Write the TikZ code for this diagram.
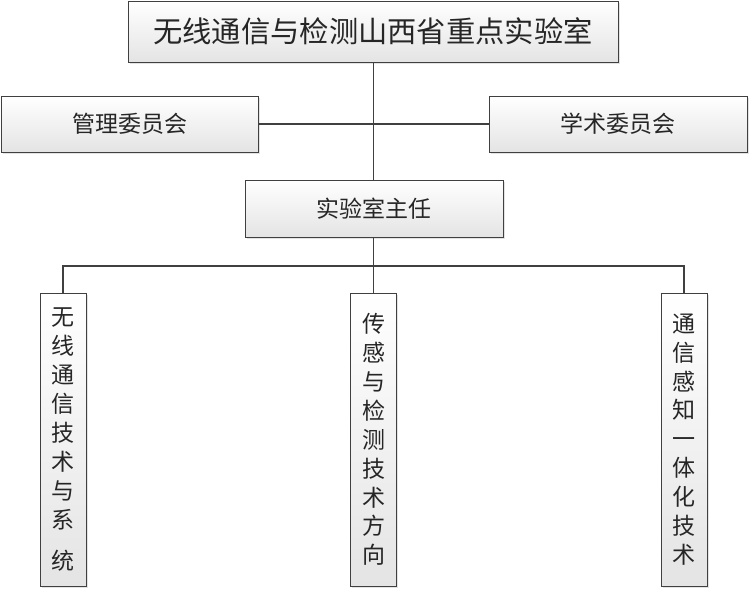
\documentclass[tikz,border=0pt]{standalone}
\usepackage{fontspec}
\setmainfont{Noto Sans CJK SC}
\usetikzlibrary{shadows}
\definecolor{lineclr}{HTML}{404040}
\definecolor{shadeclr}{HTML}{E4E4E4}
\tikzset{
  orgbox/.style={draw=lineclr, line width=1pt, top color=white, bottom color=shadeclr,
    inner sep=0pt, align=center, text=black!85,
    drop shadow={shadow xshift=1.5pt, shadow yshift=-1.5pt, fill=black!18, opacity=0.6}},
  conn/.style={draw=lineclr, line width=1.1pt},
  titlefont/.style={font=\fontsize{29.3}{34}\selectfont},
  labfont/.style={font=\fontsize{23}{27}\selectfont},
  vertfont/.style={font=\fontsize{23}{28.9}\selectfont}
}
\begin{document}
\begin{tikzpicture}[x=1pt,y=-1pt]
\useasboundingbox (0,0) rectangle (749,589);
\node[orgbox, titlefont, minimum width=490pt, minimum height=61pt] (lab) at (373,31.5) {无线通信与检测山西省重点实验室};
\node[orgbox, labfont, minimum width=257pt, minimum height=56pt] (mgmt) at (129.5,124) {管理委员会};
\node[orgbox, labfont, minimum width=258pt, minimum height=56pt] (acad) at (618,124) {学术委员会};
\node[orgbox, labfont, minimum width=258pt, minimum height=57pt] (dir) at (374,208.5) {实验室主任};
\node[orgbox, vertfont, minimum width=46pt, minimum height=293pt] (b1) at (63,439.5) {无\\线\\通\\信\\技\\术\\与\\系\\[12pt]统};
\node[orgbox, vertfont, minimum width=46pt, minimum height=293pt] (b2) at (373.5,439.5) {传\\感\\与\\检\\测\\技\\术\\方\\向};
\node[orgbox, vertfont, minimum width=46pt, minimum height=293pt] (b3) at (684,439.5) {通\\信\\感\\知\\一\\体\\化\\技\\术};
\coordinate (bus) at (373.5,266);
\draw[conn] (lab.south -| bus) -- (dir.north -| bus);
\draw[conn] (mgmt.east) -- (acad.west);
\draw[conn] (dir.south -| bus) -- (b2.north);
\draw[conn] (b1.north) -- (b1.north |- bus) -- (b3.north |- bus) -- (b3.north);
\end{tikzpicture}
\end{document}
